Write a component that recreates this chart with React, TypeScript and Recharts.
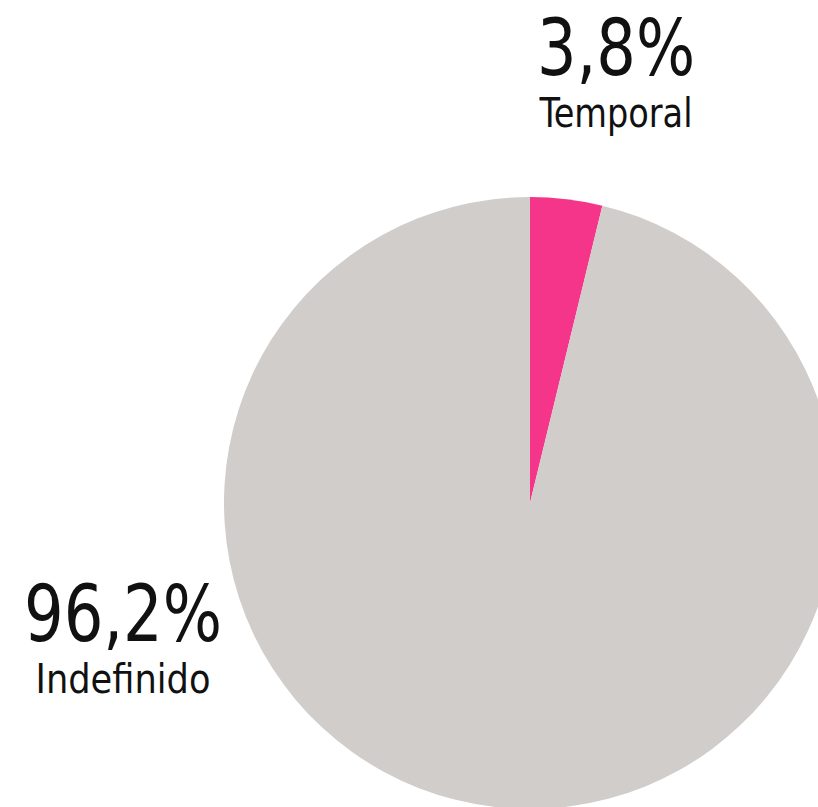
import React from "react";
import { PieChart, Pie, Cell } from "recharts";

const categories = ["Temporal", "Indefinido"];
const values = [3.8, 96.2];
const valueLabels = ["3,8%", "96,2%"];
const colors = ["#F5358A", "#D1CDCA"];

const data = categories.map((name, i) => ({ name, value: values[i] }));

const FONT = "'DejaVu Sans Condensed', 'Liberation Sans Narrow', 'Roboto Condensed', 'DejaVu Sans', sans-serif";

// label placement (chart-space) per slice
const labelPos = [
  { x: 616, yNum: 75, yName: 127, numW: 158, nameW: 153 },
  { x: 123, yNum: 641, yName: 693, numW: 198, nameW: 175 },
];

const renderLabel = (props: any) => {
  const i = props.index;
  const p = labelPos[i];
  return (
    <g key={`lbl-${i}`}>
      <text
        x={p.x}
        y={p.yNum}
        textAnchor="middle"
        fontFamily={FONT}
        fontSize={78}
        fill="#111"
        textLength={p.numW}
        lengthAdjust="spacingAndGlyphs"
      >
        {valueLabels[i]}
      </text>
      <text
        x={p.x}
        y={p.yName}
        textAnchor="middle"
        fontFamily={FONT}
        fontSize={40}
        fill="#111"
        textLength={p.nameW}
        lengthAdjust="spacingAndGlyphs"
      >
        {categories[i]}
      </text>
    </g>
  );
};

export default function App() {
  return (
    <div style={{ position: "absolute", left: 0, top: 0, width: 818, height: 807, background: "#fff", overflow: "hidden" }}>
      <PieChart width={818} height={807} margin={{ top: 0, right: 0, bottom: 0, left: 0 }}>
        <Pie
          data={data}
          dataKey="value"
          nameKey="name"
          cx={530}
          cy={503}
          outerRadius={306}
          innerRadius={0}
          startAngle={90}
          endAngle={-270}
          stroke="none"
          isAnimationActive={false}
          label={renderLabel}
          labelLine={false}
        >
          {data.map((d, i) => (
            <Cell key={d.name} fill={colors[i]} />
          ))}
        </Pie>
      </PieChart>
    </div>
  );
}
